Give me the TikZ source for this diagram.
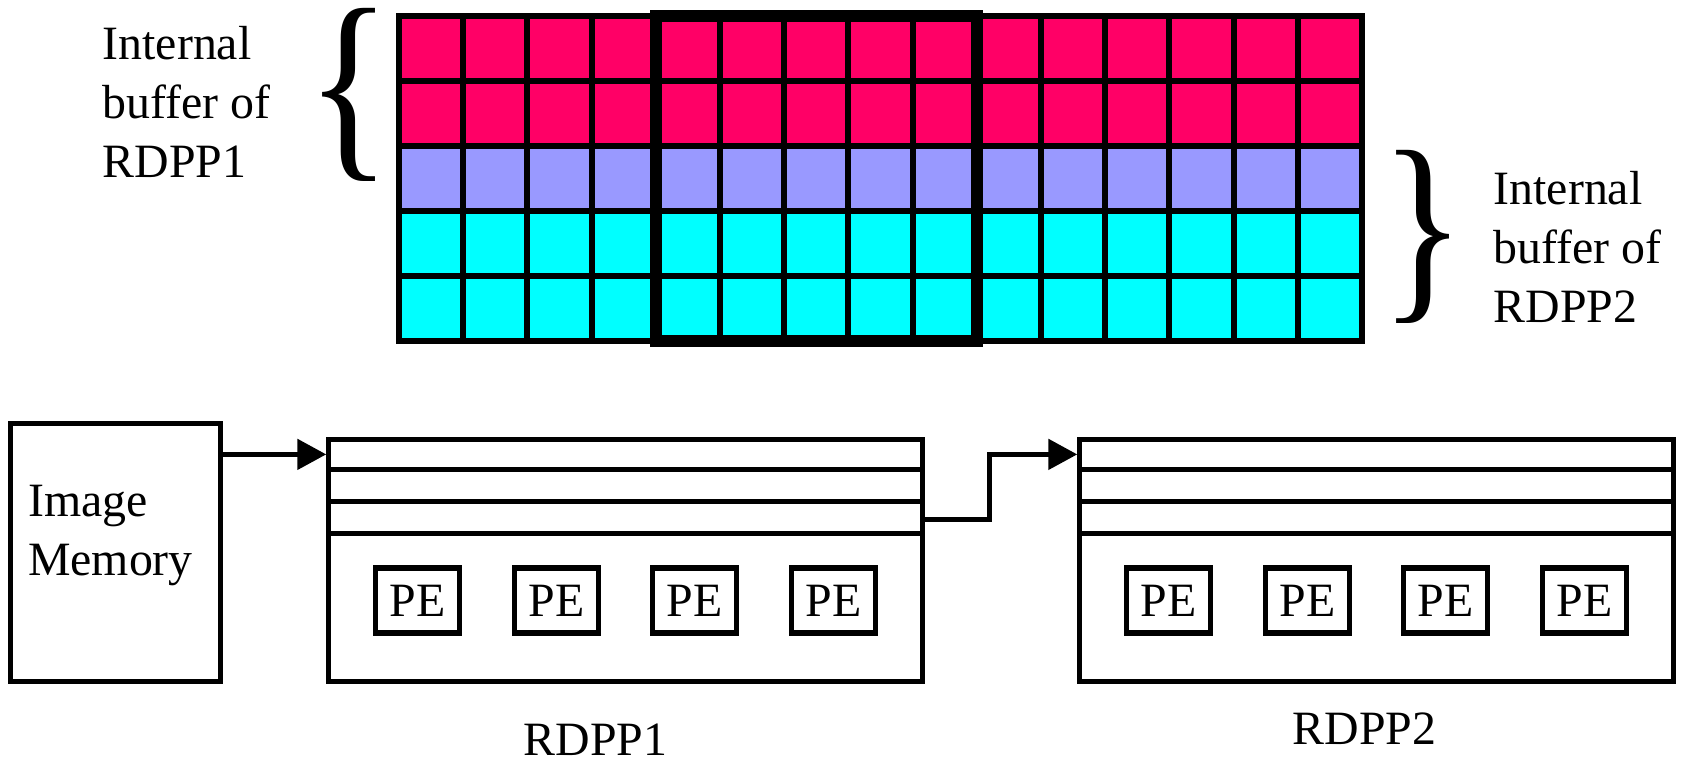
\documentclass[tikz,border=0pt]{standalone}
\usepackage{fontspec}
\setmainfont{Liberation Serif}
\usetikzlibrary{calc,arrows.meta,positioning}

\definecolor{bufred}{RGB}{255,0,102}
\definecolor{bufblue}{RGB}{153,153,255}
\definecolor{bufcyan}{RGB}{0,255,255}

\tikzset{
  txt/.style={font=\fontsize{13.6pt}{16.8pt}\selectfont, inner sep=0pt},
  blk/.style={draw, line width=1.45pt, rectangle, inner sep=0pt},
  pe/.style={blk, txt, minimum width=0.84cm, minimum height=0.65cm},
  gridline/.style={line width=1.7pt, line cap=rect},
  flow/.style={line width=1.45pt, -{Triangle[length=0.29cm,width=0.3cm]}},
}

\begin{document}
\begin{tikzpicture}[x=0.01cm, y=-0.01cm]

    \useasboundingbox (0,0) rectangle (1682,757);

    % line buffer: 5 rows x 15 columns
    \foreach \r/\c in {0/bufred,1/bufred,2/bufblue,3/bufcyan,4/bufcyan}
        \fill[\c] (399,{16+65*\r}) rectangle (1362,{81+65*\r});
    \foreach \i in {0,...,15}
        \draw[gridline] ({399+64.2*\i},16) -- ({399+64.2*\i},341);
    \foreach \j in {0,...,5}
        \draw[gridline] (399,{16+65*\j}) -- (1362,{16+65*\j});
    \draw[line width=3.4pt] (655.8,16) rectangle (976.8,341);

    \node[inner sep=0pt] (lbrace) at (349,95) {\resizebox*{0.85cm}{1.73cm}{\{}};
    \node[inner sep=0pt] (rbrace) at (1423,237) {\resizebox*{0.85cm}{1.73cm}{\}}};

    \node[txt, align=left, anchor=west] (lbuf) at (102,102) {Internal\\buffer of\\RDPP1};
    \node[txt, align=left, anchor=west] (rbuf) at (1493,247) {Internal\\buffer of\\RDPP2};

    \node[blk, minimum width=2.09cm, minimum height=2.57cm] (mem) at (115.5,552.5) {};
    \node[txt, align=left, anchor=west] (memtxt) at ($(mem.west)+(19,-17)$) {Image\\Memory};

    \node[blk, minimum width=5.93cm, minimum height=2.41cm] (rdpp1) at (625.5,560.5) {};
    \node[blk, minimum width=5.93cm, minimum height=2.41cm] (rdpp2) at (1376.5,560.5) {};

    \foreach \b in {rdpp1,rdpp2}{
        \foreach \k in {32,64,96}
            \draw[line width=1.45pt] ($(\b.north west)+(0,\k)$) -- ($(\b.north east)+(0,\k)$);
        \foreach \d [count=\n] in {-208,-69,69,208}
            \node[pe] (\b-pe\n) at ($(\b.center)+(\d,40)$) {PE};
    }

    \coordinate (in1) at ($(rdpp1.north west)+(0,17)$);
    \coordinate (out1) at ($(rdpp1.north east)+(0,82)$);
    \coordinate (in2) at ($(rdpp2.north west)+(0,17)$);

    \draw[flow] (mem.east |- in1) -- (in1);
    \draw[flow] (out1) -- ++(65,0) |- (in2);

    \node[txt] (lab1) at ($(rdpp1.south)+(-30,56)$) {RDPP1};
    \node[txt] (lab2) at ($(rdpp2.south)+(-12,45)$) {RDPP2};

\end{tikzpicture}
\end{document}
